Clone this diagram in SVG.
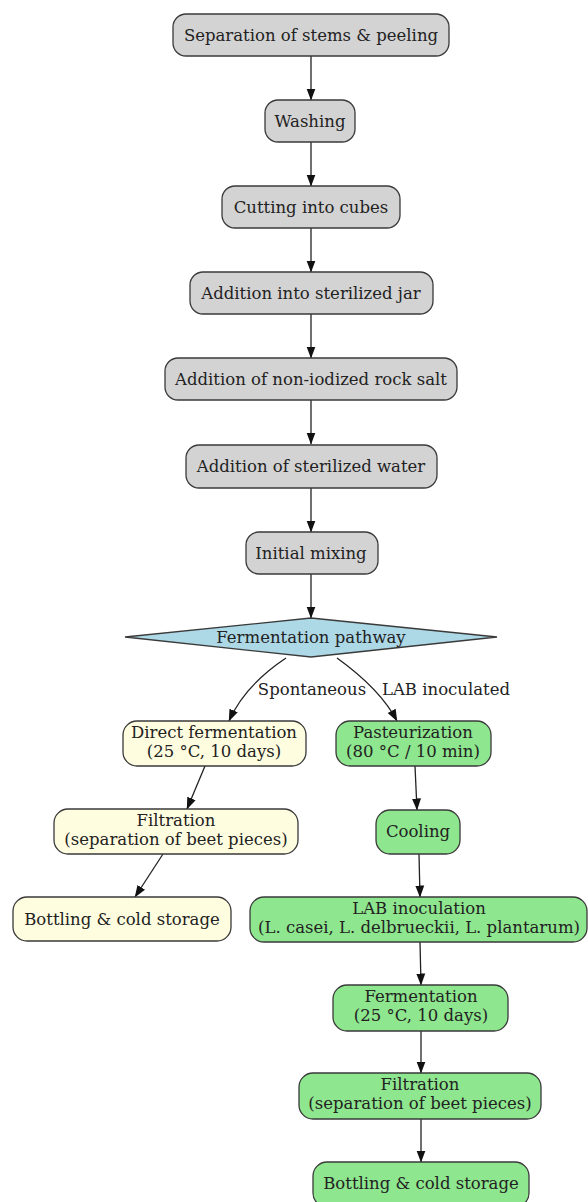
<svg xmlns="http://www.w3.org/2000/svg" width="588" height="1202" viewBox="0 0 588 1202">
<style>
  .n rect, .n polygon { stroke:#3a3a3a; stroke-width:1.3; }
  .g rect { fill:#d3d3d3; }
  .y rect { fill:#fffde0; }
  .gr rect { fill:#8ee68e; }
  .b polygon { fill:#add8e6; }
  text { font-family:"DejaVu Serif", serif; font-size:16.5px; fill:#222; text-anchor:middle; }
  .e path { fill:none; stroke:#222; stroke-width:1.3; }
</style>
<defs>
  <marker id="arr" markerWidth="12" markerHeight="10" refX="11.5" refY="5" orient="auto" markerUnits="userSpaceOnUse">
    <path d="M0,0.5 L12,5 L0,9.5 Z" fill="#111"/>
  </marker>
</defs>
<rect width="588" height="1202" fill="#fff"/>
<g class="e" id="connectors">
  <path d="M311,56 L311,100" marker-end="url(#arr)"/>
  <path d="M311,142 L311,186" marker-end="url(#arr)"/>
  <path d="M311,228 L311,272" marker-end="url(#arr)"/>
  <path d="M311,314 L311,358" marker-end="url(#arr)"/>
  <path d="M311,400 L311,444" marker-end="url(#arr)"/>
  <path d="M311,488 L311,532" marker-end="url(#arr)"/>
  <path d="M311,574 L311,618" marker-end="url(#arr)"/>
  <path d="M286,658 C262,674 240,696 229,721" marker-end="url(#arr)"/>
  <path d="M337,658 C362,676 385,698 397,721" marker-end="url(#arr)"/>
  <path d="M205,766 L187,809" marker-end="url(#arr)"/>
  <path d="M163,854 L135,897" marker-end="url(#arr)"/>
  <path d="M415,766 L417,810" marker-end="url(#arr)"/>
  <path d="M419,854 L420,897" marker-end="url(#arr)"/>
  <path d="M420,942 L421,985" marker-end="url(#arr)"/>
  <path d="M421,1031 L421,1073" marker-end="url(#arr)"/>
  <path d="M421,1119 L421,1162" marker-end="url(#arr)"/>
  <text x="312" y="695">Spontaneous</text>
  <text x="446" y="695">LAB inoculated</text>
</g>
<g class="n g" id="n1"><rect x="173" y="14" width="276" height="42" rx="13"/><text x="311" y="40.5">Separation of stems &amp; peeling</text></g>
<g class="n g" id="n2"><rect x="265" y="100" width="90" height="42" rx="13"/><text x="310" y="126.5">Washing</text></g>
<g class="n g" id="n3"><rect x="222" y="186" width="178" height="42" rx="13"/><text x="311" y="212.5">Cutting into cubes</text></g>
<g class="n g" id="n4"><rect x="190" y="272" width="243" height="42" rx="13"/><text x="311" y="298.5">Addition into sterilized jar</text></g>
<g class="n g" id="n5"><rect x="165" y="358" width="292" height="42" rx="13"/><text x="311" y="384.5">Addition of non-iodized rock salt</text></g>
<g class="n g" id="n6"><rect x="186" y="445" width="251" height="43" rx="13"/><text x="311" y="471.5">Addition of sterilized water</text></g>
<g class="n g" id="n7"><rect x="246" y="532" width="132" height="42" rx="13"/><text x="311" y="558.5">Initial mixing</text></g>
<g class="n b" id="n8"><polygon points="311,618 497,637 311,657 125,637"/><text x="311" y="642.5">Fermentation pathway</text></g>
<g class="n y" id="n9"><rect x="123" y="721" width="183" height="45" rx="14"/><text x="214" y="738">Direct fermentation</text><text x="214" y="757">(25 °C, 10 days)</text></g>
<g class="n gr" id="n10"><rect x="336" y="721" width="155" height="45" rx="14"/><text x="413" y="738">Pasteurization</text><text x="413" y="757">(80 °C / 10 min)</text></g>
<g class="n y" id="n11"><rect x="54" y="809" width="244" height="45" rx="14"/><text x="176" y="826">Filtration</text><text x="176" y="845">(separation of beet pieces)</text></g>
<g class="n gr" id="n12"><rect x="376" y="810" width="84" height="44" rx="14"/><text x="418" y="837">Cooling</text></g>
<g class="n y" id="n13"><rect x="13" y="897" width="218" height="44" rx="14"/><text x="122" y="924.5">Bottling &amp; cold storage</text></g>
<g class="n gr" id="n14"><rect x="250" y="897" width="337" height="45" rx="14"/><text x="419" y="914">LAB inoculation</text><text x="419" y="933">(L. casei, L. delbrueckii, L. plantarum)</text></g>
<g class="n gr" id="n15"><rect x="333" y="985" width="175" height="46" rx="14"/><text x="421" y="1002">Fermentation</text><text x="421" y="1021">(25 °C, 10 days)</text></g>
<g class="n gr" id="n16"><rect x="299" y="1073" width="242" height="46" rx="14"/><text x="420" y="1090">Filtration</text><text x="420" y="1109">(separation of beet pieces)</text></g>
<g class="n gr" id="n17"><rect x="313" y="1162" width="216" height="45" rx="14"/><text x="421" y="1189">Bottling &amp; cold storage</text></g>
</svg>
